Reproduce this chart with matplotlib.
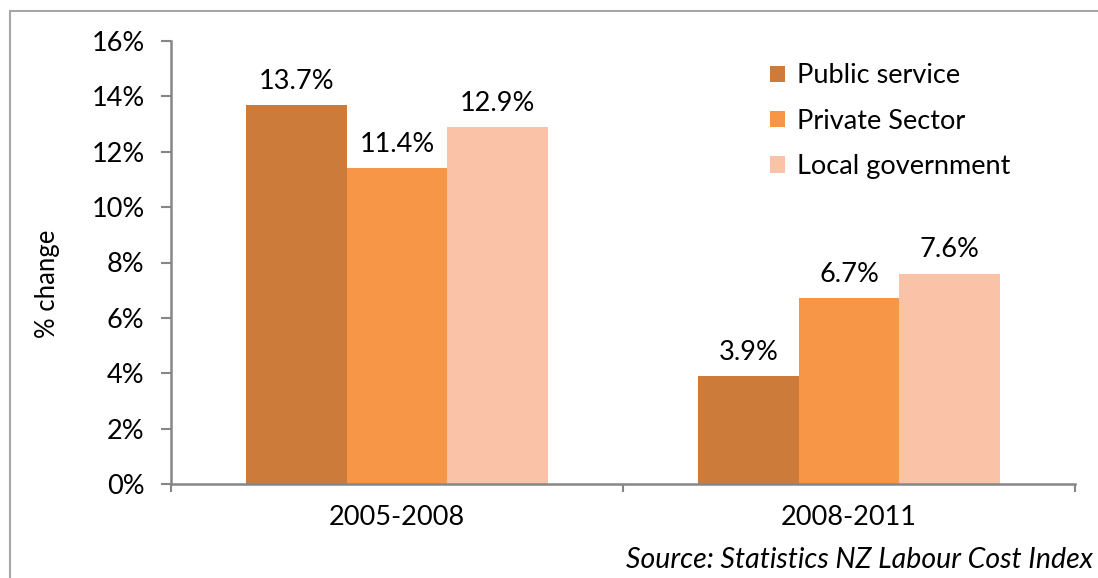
import numpy as np
import matplotlib.pyplot as plt
from matplotlib.patches import Rectangle

periods = ['2005-2008', '2008-2011']
sectors = ['Public service', 'Private Sector', 'Local government']
public_service = [13.7, 3.9]
private_sector = [11.4, 6.7]
local_government = [12.9, 7.6]
colors = ['#CC7B3A', '#F79646', '#FAC3A8']

plt.rcParams['font.family'] = ['Lato', 'DejaVu Sans']
axis_grey = '#868686'
fs = 19.5

fig = plt.figure(figsize=(10.98, 5.78), dpi=100)
ax = fig.add_axes([171 / 1098, 1 - 484 / 578, 904 / 1098, 443 / 578])

x = np.arange(len(periods))
width = 0.222
series = [public_service, private_sector, local_government]
for i, (vals, name, col) in enumerate(zip(series, sectors, colors)):
    bars = ax.bar(x + (i - 1) * width, vals, width, color=col, label=name,
                  edgecolor='none')
    for b, v in zip(bars, vals):
        ax.annotate(f'{v:.1f}%', (b.get_x() + b.get_width() / 2, v),
                    xytext=(0, 8), textcoords='offset points',
                    ha='center', va='bottom', fontsize=fs)

ax.set_xlim(-0.5, 1.5)
ax.set_ylim(0, 16)
ax.set_yticks(range(0, 17, 2))
ax.set_yticklabels([f'{t}%' for t in range(0, 17, 2)], fontsize=fs)
ax.set_xticks([-0.5, 0.5, 1.5], minor=False)
ax.set_xticklabels([])
ax.set_xticks(x, minor=True)
ax.set_xticklabels(periods, minor=True, fontsize=fs)
ax.tick_params(axis='x', which='minor', length=0, pad=15)
ax.tick_params(axis='x', which='major', length=5.5, width=1.5, color=axis_grey)
ax.tick_params(axis='y', length=7, width=1.5, color=axis_grey, pad=12)

for side in ['top', 'right']:
    ax.spines[side].set_visible(False)
for side in ['left', 'bottom']:
    ax.spines[side].set_color(axis_grey)
    ax.spines[side].set_linewidth(1.8)

fig.text(48 / 1098, 1 - 284 / 578, '% change', rotation=90,
         ha='center', va='center', fontsize=fs * 0.95)

ax.legend(loc='upper left', bbox_to_anchor=(746 / 1098, 1 - 39 / 578),
          bbox_transform=fig.transFigure, frameon=False, fontsize=fs,
          handlelength=0.55, handleheight=0.55, handletextpad=0.45,
          labelspacing=0.75)

fig.text(1093 / 1098, 1 - 560 / 578, 'Source: Statistics NZ Labour Cost Index',
         ha='right', va='center', fontsize=20.5, style='italic')

fig.patches.append(Rectangle((10 / 1098, -0.1), 1.2, 1.1 - 11 / 578,
                             transform=fig.transFigure, fill=False,
                             edgecolor='#A6A6A6', linewidth=1.5))

fig.savefig('out.png', dpi=100)
